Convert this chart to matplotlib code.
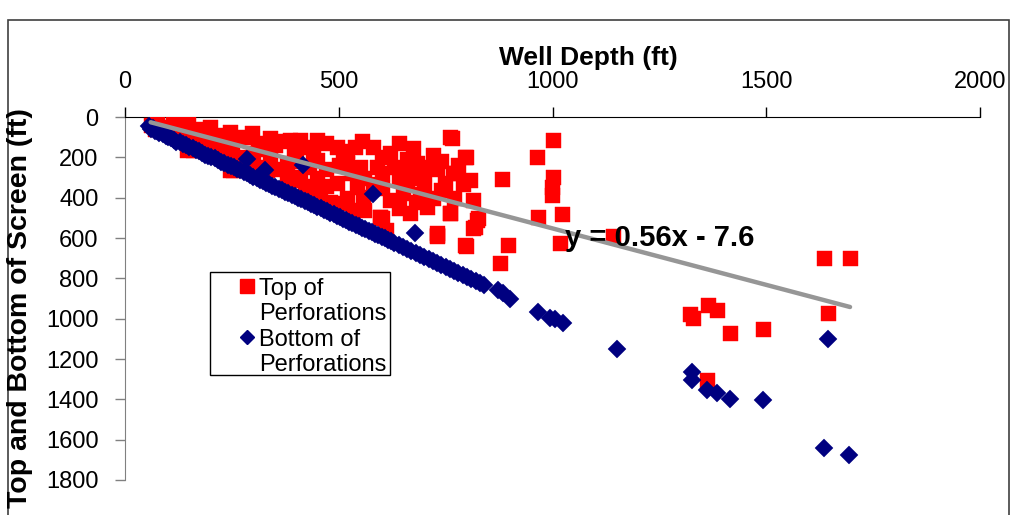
import matplotlib
matplotlib.use("Agg")
import matplotlib.pyplot as plt
from matplotlib.lines import Line2D
from matplotlib.patches import Rectangle
import numpy as np

plt.rcParams["font.family"] = ["Liberation Sans", "DejaVu Sans"]

# top of perforations (well depth ft, top ft)
top_depth = [60, 70, 75, 90, 100, 112, 122, 130, 147, 160, 175, 199, 210, 225, 246,
             260, 280, 297, 310, 320, 339, 350, 370, 386, 395, 409, 420, 440, 449, 449,
             470, 495, 510, 520, 538, 555, 580, 590, 600, 620, 640, 660, 673, 683, 706,
             720, 760, 767, 795, 772, 807, 749, 814, 760, 823, 814, 795, 896, 882, 1001,
             963, 1001, 998, 998, 966, 1022, 1017, 877, 730, 818, 826, 729, 798, 798, 765,
             409, 495, 542, 449, 596, 650, 706, 667, 760, 730, 557, 620, 253, 308, 379,
             159, 600, 610, 1141,
             430, 470, 500, 530, 560, 580, 600, 640, 660, 690, 700, 720, 740, 680, 640,
             560, 520, 480, 450, 420, 380, 360, 340, 300, 280, 250, 230, 200, 180, 150,
             400, 470, 520, 550, 600, 700, 730, 740, 780, 790, 770, 690, 630, 660,
             120, 145, 190, 215, 246, 300, 332, 386, 440, 456, 503, 533, 596,
             1322, 1329, 1364, 1385, 1415, 1492, 1361, 1635, 1696, 1645]
top_perf = [40, 60, 20, 50, 70, 10, 5, 40, 30, 80, 60, 50, 90, 120, 74,
            110, 100, 79, 130, 160, 104, 140, 120, 114, 170, 114, 150, 180, 114, 213,
            130, 148, 200, 170, 148, 120, 148, 248, 200, 178, 130, 210, 153, 228, 248,
            190, 99, 278, 198, 278, 312, 327, 411, 476, 511, 550, 635, 635, 307, 114,
            198, 297, 387, 347, 496, 481, 625, 724, 585, 545, 501, 590, 639, 198, 104,
            297, 327, 347, 362, 496, 377, 446, 476, 476, 575, 397, 411, 263, 248, 297,
            164, 500, 560, 590,
            250, 260, 240, 280, 300, 330, 350, 300, 330, 300, 350, 400, 360, 420, 450,
            460, 400, 420, 300, 340, 230, 260, 200, 180, 200, 180, 150, 140, 120, 100,
            220, 340, 230, 250, 280, 280, 260, 220, 240, 330, 400, 380, 250, 270,
            95, 164, 170, 190, 263, 248, 263, 312, 347, 396, 426, 461, 496,
            977, 997, 932, 957, 1071, 1051, 1304, 700, 700, 972]

# bottom of perforations (well depth ft, bottom ft)
bot_depth = [55, 60, 65, 70, 75, 80, 88, 95, 100, 108, 115, 120, 128, 135, 142, 150,
             158, 165, 172, 180, 188, 195, 202, 210, 218, 225, 232, 240, 248, 255, 262,
             270, 278, 285, 292, 300, 308, 315, 322, 330, 338, 345, 352, 360, 368, 375,
             382, 390, 398, 405, 412, 420, 428, 435, 442, 450, 458, 465, 472, 480, 488,
             495, 502, 510, 518, 525, 532, 540, 548, 555, 562, 570, 578, 585, 592, 600,
             608, 615, 622, 630, 640, 650, 660, 670, 680, 690, 700, 710, 720, 730, 740,
             750, 760, 770, 780, 790, 800, 810, 820, 830, 840,
             580, 678, 416, 285, 328,
             872, 884, 900, 965, 995, 1005, 1025, 1150, 1326, 1326, 1361, 1385, 1415,
             1492, 1635, 1694, 1645]
bot_perf = [45, 60, 55, 70, 68, 80, 85, 95, 98, 105, 112, 122, 125, 132, 140, 148,
            155, 162, 170, 178, 186, 192, 200, 205, 215, 222, 228, 236, 245, 250, 258,
            265, 274, 280, 288, 296, 302, 310, 318, 325, 332, 340, 348, 355, 362, 370,
            378, 385, 392, 400, 406, 415, 422, 430, 436, 445, 452, 460, 466, 475, 482,
            490, 496, 505, 512, 520, 526, 535, 542, 550, 556, 565, 572, 580, 586, 595,
            602, 610, 616, 625, 634, 645, 655, 665, 674, 685, 695, 705, 714, 725, 735,
            745, 754, 765, 775, 785, 795, 804, 815, 825, 832,
            380, 577, 238, 208, 265,
            860, 873, 900, 967, 997, 1000, 1020, 1150, 1304, 1264, 1353, 1369, 1398,
            1403, 1641, 1676, 1100]

trend_slope = 0.56
trend_icept = -7.6

W, H = 1013, 515
fig = plt.figure(figsize=(W / 100, H / 100), dpi=100)
ax = fig.add_axes([125 / W, 1 - 480 / H, 855 / W, 363 / H])

ax.plot(top_depth, top_perf, ls="none", marker="s", ms=10.8, mfc="#ff0000",
        mec="#ff0000", mew=0.3, zorder=3)
ax.plot(bot_depth, bot_perf, ls="none", marker="D", ms=8.8, mfc="#000080",
        mec="#000080", mew=0.3, zorder=4)

tx = np.array([min(top_depth), max(top_depth)])
ax.plot(tx, trend_slope * tx + trend_icept, color="#969696", lw=3.2,
        solid_capstyle="round", zorder=5)
ax.text(1030, 600, f"y = {trend_slope}x - {abs(trend_icept)}", fontsize=21,
        fontweight="bold", va="center", ha="left", zorder=6)

ax.set_xlim(0, 2000)
ax.set_ylim(1800, 0)
ax.set_xticks(range(0, 2001, 500))
ax.set_yticks(range(0, 1801, 200))
ax.xaxis.tick_top()
ax.tick_params(axis="x", direction="out", length=7, width=1, colors="#000000",
               labelsize=17, pad=10)
ax.tick_params(axis="y", direction="out", length=7, width=1, color="#808080",
               labelcolor="#000000", labelsize=17, pad=12)
ax.spines["bottom"].set_visible(False)
ax.spines["right"].set_visible(False)
ax.spines["top"].set_color("#000000")
ax.spines["left"].set_color("#808080")
ax.set_facecolor("none")

fig.text(588 / W, 1 - 58 / H, "Well Depth (ft)", fontsize=19, fontweight="bold",
         ha="center", va="center")
fig.text(20 / W, 1 - 308 / H, "Top and Bottom of Screen (ft)", fontsize=20.5,
         fontweight="bold", rotation=90, ha="center", va="center")

# legend box (Excel style, marker next to first line of each entry)
tf = fig.transFigure
fig.patches.append(Rectangle((210 / W, 1 - 375 / H), 180 / W, 103 / H,
                             transform=tf, fill=False, ec="#000000", lw=1))
fig.lines.append(Line2D([247 / W], [1 - 286 / H], transform=tf, marker="s", ms=10.5,
                        mfc="#ff0000", mec="#ff0000", ls="none"))
fig.lines.append(Line2D([247 / W], [1 - 337 / H], transform=tf, marker="D", ms=7.5,
                        mfc="#000080", mec="#000080", ls="none"))
for base, s in zip([295, 320, 346, 371],
                   ["Top of", "Perforations", "Bottom of", "Perforations"]):
    fig.text(259 / W, 1 - base / H, s, fontsize=17, ha="left", va="baseline")

# outer chart border
fig.patches.append(Rectangle((8 / W, -0.05), 1001 / W, 1.05 - 20 / H, transform=tf,
                             fill=False, ec="#404040", lw=1.2))

fig.savefig("out.png", dpi=100)
